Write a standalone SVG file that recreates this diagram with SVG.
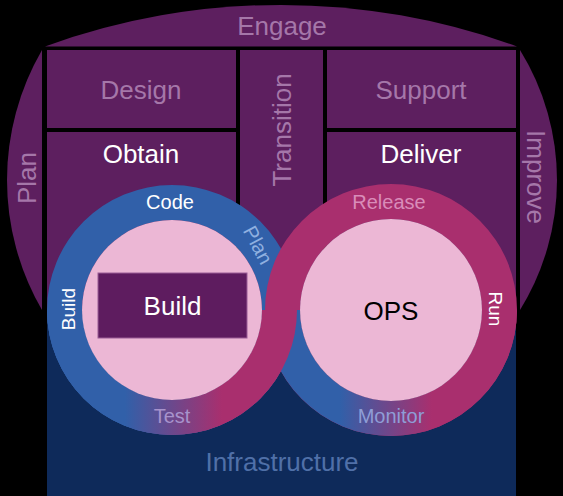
<svg xmlns="http://www.w3.org/2000/svg" width="563" height="496" viewBox="0 0 563 496">
<style>
.pu{fill:#5d1f5f}
.t{font-family:"Liberation Sans",Arial,sans-serif;text-anchor:middle}
.mut{fill:#a577a9;font-size:26px}
.wh{fill:#ffffff}
.big{font-size:26px}
.sm{font-size:20px}
</style>
<defs>
<linearGradient id="gL" gradientUnits="userSpaceOnUse" x1="125" y1="0" x2="222" y2="0">
<stop offset="0" stop-color="#3160a9"/><stop offset="1" stop-color="#a92f6e"/>
</linearGradient>
<linearGradient id="gR" gradientUnits="userSpaceOnUse" x1="340" y1="0" x2="432" y2="0">
<stop offset="0" stop-color="#3160a9"/><stop offset="1" stop-color="#a92f6e"/>
</linearGradient>
<clipPath id="low"><rect x="0" y="310" width="563" height="200"/></clipPath>
<path id="ringL" fill-rule="evenodd" d="M47,310 A125,125 0 1 0 297,310 A125,125 0 1 0 47,310 Z M82,310 A90,90 0 1 0 262,310 A90,90 0 1 0 82,310 Z"/>
<path id="ringR" fill-rule="evenodd" d="M265,310 A126,126 0 1 0 517,310 A126,126 0 1 0 265,310 Z M300,310 A91,91 0 1 0 482,310 A91,91 0 1 0 300,310 Z"/>
</defs>
<rect width="563" height="496" fill="#000"/>
<g id="engage">
<path class="pu" d="M45,46.5 A690,690 0 0 1 517,46.5 Z"/>
<text class="t mut" x="282" y="35">Engage</text>
</g>
<g id="plan">
<path class="pu" d="M42,50 A259,259 0 0 0 42,310 Z"/>
<text class="t mut" transform="translate(36,178) rotate(-90)">Plan</text>
</g>
<g id="improve">
<path class="pu" d="M520,50 A247,247 0 0 1 520,310 Z"/>
<text class="t mut" transform="translate(527,177) rotate(90)">Improve</text>
</g>
<g id="design">
<rect class="pu" x="47" y="50" width="189" height="78"/>
<text class="t mut" x="141" y="99">Design</text>
</g>
<g id="support">
<rect class="pu" x="327" y="50" width="189" height="78"/>
<text class="t mut" x="421" y="99">Support</text>
</g>
<g id="obtain">
<rect class="pu" x="47" y="132" width="189" height="178"/>
<text class="t wh big" x="141" y="163">Obtain</text>
</g>
<g id="deliver">
<rect class="pu" x="327" y="132" width="189" height="178"/>
<text class="t wh big" x="421" y="163">Deliver</text>
</g>
<g id="transition">
<rect class="pu" x="240" y="50" width="83" height="260"/>
<text class="t mut" transform="translate(291,130) rotate(-90)">Transition</text>
</g>
<g id="infrastructure">
<rect x="47" y="310" width="469" height="186" fill="#0e2a5a"/>
<text class="t big" x="282" y="471" fill="#5070a8">Infrastructure</text>
</g>
<g id="connectors">
<use href="#ringL" fill="#3160a9"/>
<use href="#ringL" fill="url(#gL)" clip-path="url(#low)"/>
<use href="#ringR" fill="#a92f6e"/>
<use href="#ringR" fill="url(#gR)" clip-path="url(#low)"/>
<use href="#ringL" fill="url(#gL)" clip-path="url(#low)"/>
</g>
<g id="dev">
<circle cx="172" cy="310" r="90" fill="#ecb7d5"/>
<rect x="98" y="273" width="149" height="65" fill="#5e1c5f" stroke="#9a5c96" stroke-width="1"/>
<text class="t wh big" x="172.5" y="315">Build</text>
<text class="t wh sm" x="170" y="209">Code</text>
<text class="t sm" fill="#8fb0e0" transform="translate(258,245) rotate(62)" y="7">Plan</text>
<text class="t wh" font-size="19" transform="translate(75,309) rotate(-90)">Build</text>
<text class="t sm" x="172" y="423" fill="#a793cc">Test</text>
</g>
<g id="ops">
<circle cx="391" cy="310" r="91" fill="#ecb7d5"/>
<text class="t big" x="391" y="320" fill="#000">OPS</text>
<text class="t sm" x="389" y="209" fill="#d98cb9">Release</text>
<text class="t wh" font-size="19" transform="translate(489,309) rotate(90)">Run</text>
<text class="t sm" x="391" y="423" fill="#8f9dd6">Monitor</text>
</g>
</svg>
